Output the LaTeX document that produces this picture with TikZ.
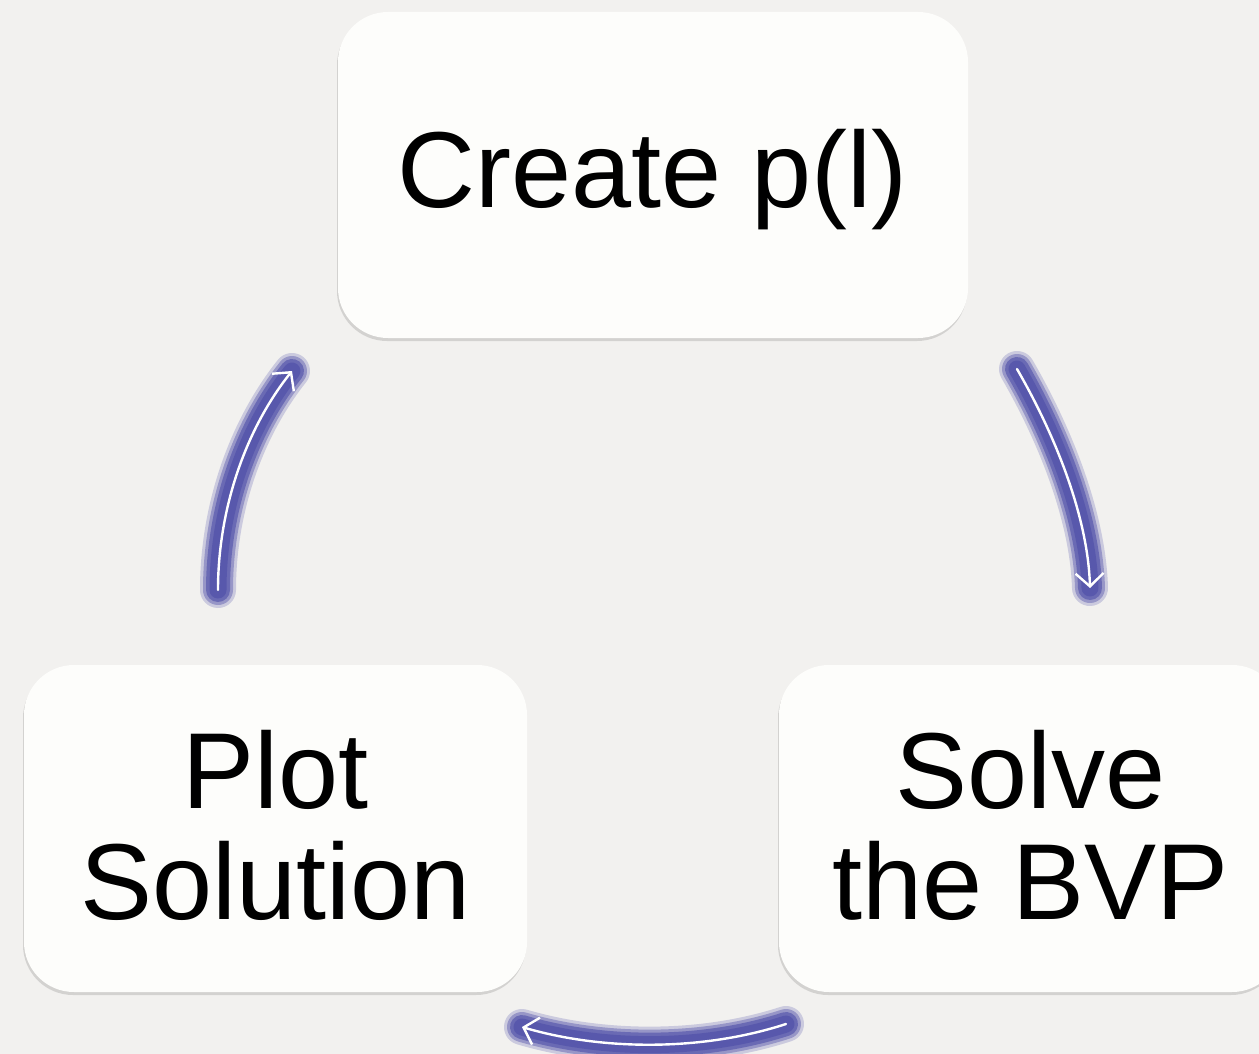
\documentclass[tikz,border=0pt]{standalone}
\usepackage{fontspec}
\setmainfont{Liberation Sans}
\usetikzlibrary{arrows.meta,shadows}
\definecolor{bg}{RGB}{242,241,239}
\definecolor{boxfill}{RGB}{253,253,251}
\definecolor{glow}{RGB}{88,88,172}
\tikzset{
  box/.style={rectangle, rounded corners=50pt, fill=boxfill,
    inner sep=0pt,
    drop shadow={shadow xshift=-1pt, shadow yshift=-3pt, opacity=0.22, fill=black!60}},
  boxtext/.style={align=center, inner sep=0pt, text=black,
    font=\fontsize{108}{111}\selectfont},
  halo/.style={draw=glow, line cap=round, line join=round},
  core/.style={draw=white, line width=2.4pt, line cap=round,
    -{Straight Barb[length=13pt,width=28pt,line width=2.4pt]}},
}
\newcommand\glowarrow[1]{%
  \draw[halo, line width=36pt, opacity=0.25] #1;
  \draw[halo, line width=30pt, opacity=0.45] #1;
  \draw[halo, line width=24pt, opacity=0.7] #1;
  \draw[halo, line width=17pt, opacity=1] #1;
  \draw[core] #1;
}
\begin{document}
\begin{tikzpicture}[x=1pt,y=-1pt]
\useasboundingbox (0,0) rectangle (1259,1054);
\clip (0,0) rectangle (1259,1054);
\fill[bg] (0,0) rectangle (1259,1054);

\node[box, minimum width=630pt, minimum height=326pt] (create) at (653,175) {};
\node[box, minimum width=503pt, minimum height=327pt] (plot) at (275.5,828.5) {};
\node[box, minimum width=503pt, minimum height=327pt] (solve) at (1030.5,828.5) {};

\node[boxtext] (createlbl) at ([yshift=-5pt]create.center) {Create p(l)};
\node[boxtext] (plotlbl) at ([yshift=3pt]plot.center) {Plot\\Solution};
\node[boxtext] (solvelbl) at ([yshift=3pt]solve.center) {Solve\\the BVP};

\coordinate (a1s) at (1017,369);
\coordinate (a1e) at (1090,588);
\coordinate (a2s) at (786,1024);
\coordinate (a2e) at (522,1027);
\coordinate (a3s) at (218,590);
\coordinate (a3e) at (292,371);

\glowarrow{(a1s) .. controls (1058,440) and (1088,520) .. (a1e)}
\glowarrow{(a2s) .. controls (700,1052) and (600,1050) .. (a2e)}
\glowarrow{(a3s) .. controls (218,510) and (245,430) .. (a3e)}
\end{tikzpicture}
\end{document}
